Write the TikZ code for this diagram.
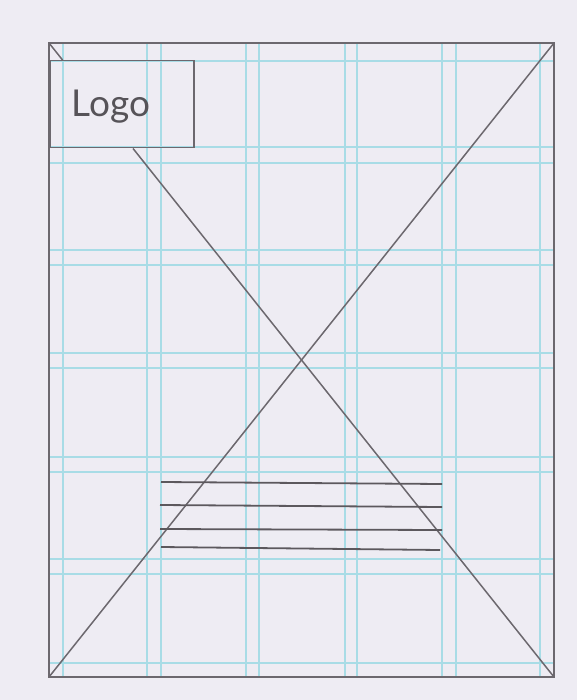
\documentclass[tikz,border=0pt]{standalone}
\usepackage{fontspec}
\usepackage{xcolor}
\usepackage{tikz}
\usetikzlibrary{positioning}
\newfontfamily\logofont{Lato}

\definecolor{paper}{RGB}{238,236,243}
\definecolor{pencil}{RGB}{108,104,110}
\definecolor{gridblue}{RGB}{168,220,230}

\begin{document}
\begin{tikzpicture}[
    x=1pt, y=-1pt,
    guide/.style={draw=gridblue, line width=1.15pt},
    frame/.style={draw=pencil, line width=1.5pt},
    textline/.style={draw=pencil!85!black, line width=1.8pt},
    logobox/.style={
        rectangle,
        draw=pencil,
        line width=1.5pt,
        minimum width=144pt,
        minimum height=87pt,
        inner sep=0pt,
        anchor=north west
    }
]

\fill[paper] (0,0) rectangle (577,700);
\useasboundingbox (0,0) rectangle (577,700);

% frame corners
\coordinate (tl) at (49,43);
\coordinate (tr) at (554,43);
\coordinate (bl) at (49,677);
\coordinate (br) at (554,677);

% printed layout grid
\foreach \gx in {63,147,161,246,259,345,357,442,456,540}
    \draw[guide] (\gx,43) -- (\gx,677);
\foreach \gy in {61,147,163,250,265,353,368,457,472,559,574,663}
    \draw[guide] (49,\gy) -- (554,\gy);

\node (logo) [logobox] at (49,60) {};
\node (logotext) [font=\logofont\fontsize{37}{37}\selectfont, text=pencil!80!black,
    anchor=west] at (68,107) {Logo};

\draw[frame] (tl) rectangle (br);
\draw[frame] (tl) -- (intersection of tl--br and logo.north west--logo.north east);
\draw[frame] (intersection of tl--br and logo.south west--logo.south east) -- (br);
\draw[frame] (bl) -- (tr);

\draw[textline] (161,482) -- (442,484);
\draw[textline] (160,505) -- (442,507);
\draw[textline] (160,529) -- (442,530);
\draw[textline] (161,547) -- (440,550);

\end{tikzpicture}
\end{document}
